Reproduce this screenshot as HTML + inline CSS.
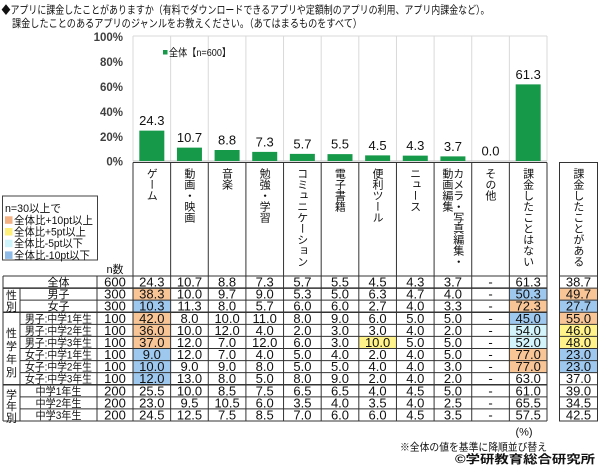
<!DOCTYPE html>
<html><head><meta charset="utf-8">
<style>
html,body{margin:0;padding:0;background:#fff;}
#wrap{position:relative;width:600px;height:465px;overflow:hidden;font-family:"Liberation Sans","Noto Sans CJK JP",sans-serif;color:#111;background:#fff;}
svg{position:absolute;left:0;top:0;}
.vh{position:absolute;top:168px;height:108px;display:flex;justify-content:center;}
.vt{writing-mode:vertical-rl;font-size:11px;line-height:10.8px;font-family:"Noto Sans CJK JP",sans-serif;color:#111;white-space:nowrap;}
</style></head><body><div id="wrap">
<svg width="600" height="465" viewBox="0 0 600 465" xmlns="http://www.w3.org/2000/svg" font-family="Liberation Sans, Noto Sans CJK JP, sans-serif">
<!-- title -->
<g fill="#111">
<text x="1.5" y="13.5" font-size="11" textLength="488" lengthAdjust="spacingAndGlyphs">◆アプリに課金したことがありますか（有料でダウンロードできるアプリや定額制のアプリの利用、アプリ内課金など）。</text>
<text x="12" y="27" font-size="11" textLength="350" lengthAdjust="spacingAndGlyphs">課金したことのあるアプリのジャンルをお教えください。（あてはまるものをすべて）</text>
</g>
<!-- plot gridlines -->
<g stroke="#d9d9d9" stroke-width="1">
<line x1="133" y1="36" x2="547" y2="36"/>
<line x1="133" y1="36" x2="133" y2="161"/>
<line x1="170.64" y1="36" x2="170.64" y2="161"/>
<line x1="208.27" y1="36" x2="208.27" y2="161"/>
<line x1="245.91" y1="36" x2="245.91" y2="161"/>
<line x1="283.55" y1="36" x2="283.55" y2="161"/>
<line x1="321.18" y1="36" x2="321.18" y2="161"/>
<line x1="358.82" y1="36" x2="358.82" y2="161"/>
<line x1="396.45" y1="36" x2="396.45" y2="161"/>
<line x1="434.09" y1="36" x2="434.09" y2="161"/>
<line x1="471.73" y1="36" x2="471.73" y2="161"/>
<line x1="509.36" y1="36" x2="509.36" y2="161"/>
<line x1="547" y1="36" x2="547" y2="161"/>
</g>
<line x1="133" y1="161" x2="547" y2="161" stroke="#bfbfbf" stroke-width="1"/>
<!-- y axis labels -->
<g font-size="11.5" font-weight="bold" fill="#404040" text-anchor="end">
<text x="123" y="40.9">100%</text>
<text x="123" y="65.9">80%</text>
<text x="123" y="90.9">60%</text>
<text x="123" y="115.9">40%</text>
<text x="123" y="140.9">20%</text>
<text x="123" y="165.5">0%</text>
</g>
<!-- legend in chart -->
<rect x="163" y="50" width="4.5" height="4.5" fill="#17994a"/>
<text x="169" y="56" font-size="10.5" fill="#111" textLength="62" lengthAdjust="spacingAndGlyphs">全体【n=600】</text>
<!-- bars -->
<g fill="#17994a">
<rect x="139.32" y="130.63" width="25" height="30.37"/>
<rect x="176.95" y="147.63" width="25" height="13.37"/>
<rect x="214.59" y="150" width="25" height="11"/>
<rect x="252.23" y="151.88" width="25" height="9.12"/>
<rect x="289.86" y="153.88" width="25" height="7.12"/>
<rect x="327.5" y="154.13" width="25" height="6.87"/>
<rect x="365.14" y="155.38" width="25" height="5.62"/>
<rect x="402.77" y="155.63" width="25" height="5.37"/>
<rect x="440.41" y="156.38" width="25" height="4.62"/>
<rect x="515.68" y="84.38" width="25" height="76.62"/>
</g>
<g font-size="13" fill="#111" text-anchor="middle">
<text x="151.8" y="125.1">24.3</text>
<text x="189.5" y="142.1">10.7</text>
<text x="227.1" y="144.5">8.8</text>
<text x="264.7" y="146.4">7.3</text>
<text x="302.4" y="148.4">5.7</text>
<text x="340.0" y="148.6">5.5</text>
<text x="377.6" y="149.9">4.5</text>
<text x="415.3" y="150.1">4.3</text>
<text x="452.9" y="150.9">3.7</text>
<text x="490.5" y="155.5">0.0</text>
<text x="528.2" y="78.9">61.3</text>
</g>

<!-- highlight cells -->
<g>
<g fill="#f8c597">
<rect x="133" y="288.08" width="37.64" height="12.09"/>
<rect x="133" y="312.25" width="37.64" height="12.08"/>
<rect x="133" y="324.33" width="37.64" height="12.09"/>
<rect x="133" y="336.42" width="37.64" height="12.08"/>
<rect x="509.36" y="300.17" width="37.64" height="12.08"/>
<rect x="509.36" y="348.5" width="37.64" height="12.08"/>
<rect x="509.36" y="360.58" width="37.64" height="12.09"/>
<rect x="559.5" y="288.08" width="38" height="12.09"/>
<rect x="559.5" y="312.25" width="38" height="12.08"/>
</g>
<g fill="#9fc8ef">
<rect x="133" y="300.17" width="37.64" height="12.08"/>
<rect x="133" y="348.5" width="37.64" height="12.08"/>
<rect x="133" y="360.58" width="37.64" height="12.09"/>
<rect x="133" y="372.67" width="37.64" height="12.08"/>
<rect x="509.36" y="288.08" width="37.64" height="12.09"/>
<rect x="509.36" y="312.25" width="37.64" height="12.08"/>
<rect x="559.5" y="300.17" width="38" height="12.08"/>
<rect x="559.5" y="348.5" width="38" height="12.08"/>
<rect x="559.5" y="360.58" width="38" height="12.09"/>
</g>
<g fill="#d2f4fa">
<rect x="509.36" y="324.33" width="37.64" height="12.09"/>
<rect x="509.36" y="336.42" width="37.64" height="12.08"/>
</g>
<g fill="#fff38a">
<rect x="358.82" y="336.42" width="37.63" height="12.08"/>
<rect x="559.5" y="324.33" width="38" height="12.09"/>
<rect x="559.5" y="336.42" width="38" height="12.08"/>
</g>
</g>

<!-- table lines -->
<g stroke="#333" stroke-width="1" fill="none">
<line x1="133" y1="162.5" x2="547" y2="162.5"/>
<line x1="133" y1="162.5" x2="133" y2="421"/>
<line x1="170.64" y1="162.5" x2="170.64" y2="421"/>
<line x1="208.27" y1="162.5" x2="208.27" y2="421"/>
<line x1="245.91" y1="162.5" x2="245.91" y2="421"/>
<line x1="283.55" y1="162.5" x2="283.55" y2="421"/>
<line x1="321.18" y1="162.5" x2="321.18" y2="421"/>
<line x1="358.82" y1="162.5" x2="358.82" y2="421"/>
<line x1="396.45" y1="162.5" x2="396.45" y2="421"/>
<line x1="434.09" y1="162.5" x2="434.09" y2="421"/>
<line x1="471.73" y1="162.5" x2="471.73" y2="421"/>
<line x1="509.36" y1="162.5" x2="509.36" y2="421"/>
<line x1="547" y1="162.5" x2="547" y2="421"/>
<rect x="559.5" y="162.5" width="38" height="258.5"/>
<line x1="559.5" y1="276" x2="597.5" y2="276"/>
<line x1="3" y1="276" x2="547" y2="276"/>
<line x1="3" y1="421" x2="547" y2="421"/>
<line x1="3" y1="276" x2="3" y2="421"/>
<line x1="20" y1="288.08" x2="20" y2="421"/>
<line x1="97" y1="276" x2="97" y2="421"/>
<line x1="20" y1="300.17" x2="547" y2="300.17"/>
<line x1="20" y1="324.33" x2="547" y2="324.33"/>
<line x1="20" y1="336.42" x2="547" y2="336.42"/>
<line x1="20" y1="348.5" x2="547" y2="348.5"/>
<line x1="20" y1="360.58" x2="547" y2="360.58"/>
<line x1="20" y1="372.67" x2="547" y2="372.67"/>
<line x1="20" y1="396.83" x2="547" y2="396.83"/>
<line x1="20" y1="408.92" x2="547" y2="408.92"/>
<line x1="559.5" y1="288.08" x2="597.5" y2="288.08"/>
<line x1="559.5" y1="300.17" x2="597.5" y2="300.17"/>
<line x1="559.5" y1="312.25" x2="597.5" y2="312.25"/>
<line x1="559.5" y1="324.33" x2="597.5" y2="324.33"/>
<line x1="559.5" y1="336.42" x2="597.5" y2="336.42"/>
<line x1="559.5" y1="348.5" x2="597.5" y2="348.5"/>
<line x1="559.5" y1="360.58" x2="597.5" y2="360.58"/>
<line x1="559.5" y1="372.67" x2="597.5" y2="372.67"/>
<line x1="559.5" y1="384.75" x2="597.5" y2="384.75"/>
<line x1="559.5" y1="396.83" x2="597.5" y2="396.83"/>
<line x1="559.5" y1="408.92" x2="597.5" y2="408.92"/>
</g>
<g stroke="#333" stroke-width="1.5">
<line x1="3" y1="288.08" x2="547" y2="288.08"/>
<line x1="3" y1="312.25" x2="547" y2="312.25"/>
<line x1="3" y1="384.75" x2="547" y2="384.75"/>
</g>

<!-- legend box -->
<rect x="2.5" y="196" width="95" height="64" fill="#fff" stroke="#404040" stroke-width="1"/>
<g font-size="11" fill="#111">
<text x="5" y="212" textLength="56" lengthAdjust="spacingAndGlyphs">n=30以上で</text>
<rect x="5" y="216.3" width="7.5" height="7.5" fill="#f4b183"/>
<text x="14" y="223.8" textLength="79" lengthAdjust="spacingAndGlyphs">全体比+10pt以上</text>
<rect x="5" y="228" width="7.5" height="7.5" fill="#fff07a"/>
<text x="14" y="235.5" textLength="72" lengthAdjust="spacingAndGlyphs">全体比+5pt以上</text>
<rect x="5" y="239.7" width="7.5" height="7.5" fill="#cdf3fb"/>
<text x="14" y="247.2" textLength="69" lengthAdjust="spacingAndGlyphs">全体比-5pt以下</text>
<rect x="5" y="251.4" width="7.5" height="7.5" fill="#8fbbe8"/>
<text x="14" y="258.9" textLength="76" lengthAdjust="spacingAndGlyphs">全体比-10pt以下</text>
</g>
<text x="115" y="273" font-size="11" text-anchor="middle" fill="#111">n数</text>

<!-- group labels -->
<g font-size="11" fill="#111" text-anchor="middle">
<text x="11.5" y="299">性</text>
<text x="11.5" y="310.7">別</text>
<text x="11.5" y="337">性</text>
<text x="11.5" y="350">学</text>
<text x="11.5" y="363">年</text>
<text x="11.5" y="376">別</text>
<text x="11.5" y="398.5">学</text>
<text x="11.5" y="410">年</text>
<text x="11.5" y="421.5">別</text>
</g>
<!-- row labels -->
<g font-size="11" fill="#111" text-anchor="middle">
<text x="58.5" y="286">全体</text>
<text x="58.5" y="298.1">男子</text>
<text x="58.5" y="310.2">女子</text>
<text x="58.5" y="322.3" textLength="67" lengthAdjust="spacingAndGlyphs">男子:中学1年生</text>
<text x="58.5" y="334.4" textLength="67" lengthAdjust="spacingAndGlyphs">男子:中学2年生</text>
<text x="58.5" y="346.5" textLength="67" lengthAdjust="spacingAndGlyphs">男子:中学3年生</text>
<text x="58.5" y="358.5" textLength="67" lengthAdjust="spacingAndGlyphs">女子:中学1年生</text>
<text x="58.5" y="370.6" textLength="67" lengthAdjust="spacingAndGlyphs">女子:中学2年生</text>
<text x="58.5" y="382.7" textLength="67" lengthAdjust="spacingAndGlyphs">女子:中学3年生</text>
<text x="58.5" y="394.8" textLength="46" lengthAdjust="spacingAndGlyphs">中学1年生</text>
<text x="58.5" y="406.9" textLength="46" lengthAdjust="spacingAndGlyphs">中学2年生</text>
<text x="58.5" y="419" textLength="46" lengthAdjust="spacingAndGlyphs">中学3年生</text>
</g>

<!-- table numbers -->
<g font-size="13" fill="#111" text-anchor="middle">
<g transform="translate(0,286.5)">
<text x="115" y="0">600</text><text x="151.8" y="0">24.3</text><text x="189.5" y="0">10.7</text><text x="227.1" y="0">8.8</text><text x="264.7" y="0">7.3</text><text x="302.4" y="0">5.7</text><text x="340" y="0">5.5</text><text x="377.6" y="0">4.5</text><text x="415.3" y="0">4.3</text><text x="452.9" y="0">3.7</text><text x="490.5" y="0">-</text><text x="528.2" y="0">61.3</text><text x="578.5" y="0">38.7</text>
</g>
<g transform="translate(0,298.6)">
<text x="115" y="0">300</text><text x="151.8" y="0">38.3</text><text x="189.5" y="0">10.0</text><text x="227.1" y="0">9.7</text><text x="264.7" y="0">9.0</text><text x="302.4" y="0">5.3</text><text x="340" y="0">5.0</text><text x="377.6" y="0">6.3</text><text x="415.3" y="0">4.7</text><text x="452.9" y="0">4.0</text><text x="490.5" y="0">-</text><text x="528.2" y="0">50.3</text><text x="578.5" y="0">49.7</text>
</g>
<g transform="translate(0,310.7)">
<text x="115" y="0">300</text><text x="151.8" y="0">10.3</text><text x="189.5" y="0">11.3</text><text x="227.1" y="0">8.0</text><text x="264.7" y="0">5.7</text><text x="302.4" y="0">6.0</text><text x="340" y="0">6.0</text><text x="377.6" y="0">2.7</text><text x="415.3" y="0">4.0</text><text x="452.9" y="0">3.3</text><text x="490.5" y="0">-</text><text x="528.2" y="0">72.3</text><text x="578.5" y="0">27.7</text>
</g>
<g transform="translate(0,322.8)">
<text x="115" y="0">100</text><text x="151.8" y="0">42.0</text><text x="189.5" y="0">8.0</text><text x="227.1" y="0">10.0</text><text x="264.7" y="0">11.0</text><text x="302.4" y="0">8.0</text><text x="340" y="0">9.0</text><text x="377.6" y="0">6.0</text><text x="415.3" y="0">5.0</text><text x="452.9" y="0">5.0</text><text x="490.5" y="0">-</text><text x="528.2" y="0">45.0</text><text x="578.5" y="0">55.0</text>
</g>
<g transform="translate(0,334.9)">
<text x="115" y="0">100</text><text x="151.8" y="0">36.0</text><text x="189.5" y="0">10.0</text><text x="227.1" y="0">12.0</text><text x="264.7" y="0">4.0</text><text x="302.4" y="0">2.0</text><text x="340" y="0">3.0</text><text x="377.6" y="0">3.0</text><text x="415.3" y="0">4.0</text><text x="452.9" y="0">2.0</text><text x="490.5" y="0">-</text><text x="528.2" y="0">54.0</text><text x="578.5" y="0">46.0</text>
</g>
<g transform="translate(0,347)">
<text x="115" y="0">100</text><text x="151.8" y="0">37.0</text><text x="189.5" y="0">12.0</text><text x="227.1" y="0">7.0</text><text x="264.7" y="0">12.0</text><text x="302.4" y="0">6.0</text><text x="340" y="0">3.0</text><text x="377.6" y="0">10.0</text><text x="415.3" y="0">5.0</text><text x="452.9" y="0">5.0</text><text x="490.5" y="0">-</text><text x="528.2" y="0">52.0</text><text x="578.5" y="0">48.0</text>
</g>
<g transform="translate(0,359)">
<text x="115" y="0">100</text><text x="151.8" y="0">9.0</text><text x="189.5" y="0">12.0</text><text x="227.1" y="0">7.0</text><text x="264.7" y="0">4.0</text><text x="302.4" y="0">5.0</text><text x="340" y="0">4.0</text><text x="377.6" y="0">2.0</text><text x="415.3" y="0">4.0</text><text x="452.9" y="0">5.0</text><text x="490.5" y="0">-</text><text x="528.2" y="0">77.0</text><text x="578.5" y="0">23.0</text>
</g>
<g transform="translate(0,371.1)">
<text x="115" y="0">100</text><text x="151.8" y="0">10.0</text><text x="189.5" y="0">9.0</text><text x="227.1" y="0">9.0</text><text x="264.7" y="0">8.0</text><text x="302.4" y="0">5.0</text><text x="340" y="0">5.0</text><text x="377.6" y="0">4.0</text><text x="415.3" y="0">4.0</text><text x="452.9" y="0">3.0</text><text x="490.5" y="0">-</text><text x="528.2" y="0">77.0</text><text x="578.5" y="0">23.0</text>
</g>
<g transform="translate(0,383.2)">
<text x="115" y="0">100</text><text x="151.8" y="0">12.0</text><text x="189.5" y="0">13.0</text><text x="227.1" y="0">8.0</text><text x="264.7" y="0">5.0</text><text x="302.4" y="0">8.0</text><text x="340" y="0">9.0</text><text x="377.6" y="0">2.0</text><text x="415.3" y="0">4.0</text><text x="452.9" y="0">2.0</text><text x="490.5" y="0">-</text><text x="528.2" y="0">63.0</text><text x="578.5" y="0">37.0</text>
</g>
<g transform="translate(0,395.3)">
<text x="115" y="0">200</text><text x="151.8" y="0">25.5</text><text x="189.5" y="0">10.0</text><text x="227.1" y="0">8.5</text><text x="264.7" y="0">7.5</text><text x="302.4" y="0">6.5</text><text x="340" y="0">6.5</text><text x="377.6" y="0">4.0</text><text x="415.3" y="0">4.5</text><text x="452.9" y="0">5.0</text><text x="490.5" y="0">-</text><text x="528.2" y="0">61.0</text><text x="578.5" y="0">39.0</text>
</g>
<g transform="translate(0,407.4)">
<text x="115" y="0">200</text><text x="151.8" y="0">23.0</text><text x="189.5" y="0">9.5</text><text x="227.1" y="0">10.5</text><text x="264.7" y="0">6.0</text><text x="302.4" y="0">3.5</text><text x="340" y="0">4.0</text><text x="377.6" y="0">3.5</text><text x="415.3" y="0">4.0</text><text x="452.9" y="0">2.5</text><text x="490.5" y="0">-</text><text x="528.2" y="0">65.5</text><text x="578.5" y="0">34.5</text>
</g>
<g transform="translate(0,419.5)">
<text x="115" y="0">200</text><text x="151.8" y="0">24.5</text><text x="189.5" y="0">12.5</text><text x="227.1" y="0">7.5</text><text x="264.7" y="0">8.5</text><text x="302.4" y="0">7.0</text><text x="340" y="0">6.0</text><text x="377.6" y="0">6.0</text><text x="415.3" y="0">4.5</text><text x="452.9" y="0">3.5</text><text x="490.5" y="0">-</text><text x="528.2" y="0">57.5</text><text x="578.5" y="0">42.5</text>
</g>
</g>

<!-- notes -->
<text x="524" y="435.5" font-size="11" text-anchor="middle" fill="#111">(%)</text>
<text x="400" y="450.5" font-size="10.5" fill="#111" textLength="147" lengthAdjust="spacingAndGlyphs">※全体の値を基準に降順並び替え</text>
<text x="455" y="463" font-size="11.5" font-weight="bold" fill="#111" textLength="140" lengthAdjust="spacingAndGlyphs">©学研教育総合研究所</text>
</svg>

<!-- vertical header labels -->
<div class="vh" style="left:133px;width:37.64px"><div class="vt">ゲーム</div></div>
<div class="vh" style="left:170.64px;width:37.64px"><div class="vt">動画・映画</div></div>
<div class="vh" style="left:208.27px;width:37.64px"><div class="vt">音楽</div></div>
<div class="vh" style="left:245.91px;width:37.64px"><div class="vt">勉強・学習</div></div>
<div class="vh" style="left:283.55px;width:37.64px"><div class="vt">コミュニケーション</div></div>
<div class="vh" style="left:321.18px;width:37.64px"><div class="vt">電子書籍</div></div>
<div class="vh" style="left:358.82px;width:37.64px"><div class="vt">便利ツール</div></div>
<div class="vh" style="left:396.45px;width:37.64px"><div class="vt">ニュース</div></div>
<div class="vh" style="left:434.09px;width:37.64px"><div class="vt">カメラ・写真編集・<br>動画編集</div></div>
<div class="vh" style="left:471.73px;width:37.64px"><div class="vt">その他</div></div>
<div class="vh" style="left:509.36px;width:37.64px"><div class="vt">課金したことはない</div></div>
<div class="vh" style="left:559.5px;width:38px"><div class="vt">課金したことがある</div></div>
</div></body></html>
